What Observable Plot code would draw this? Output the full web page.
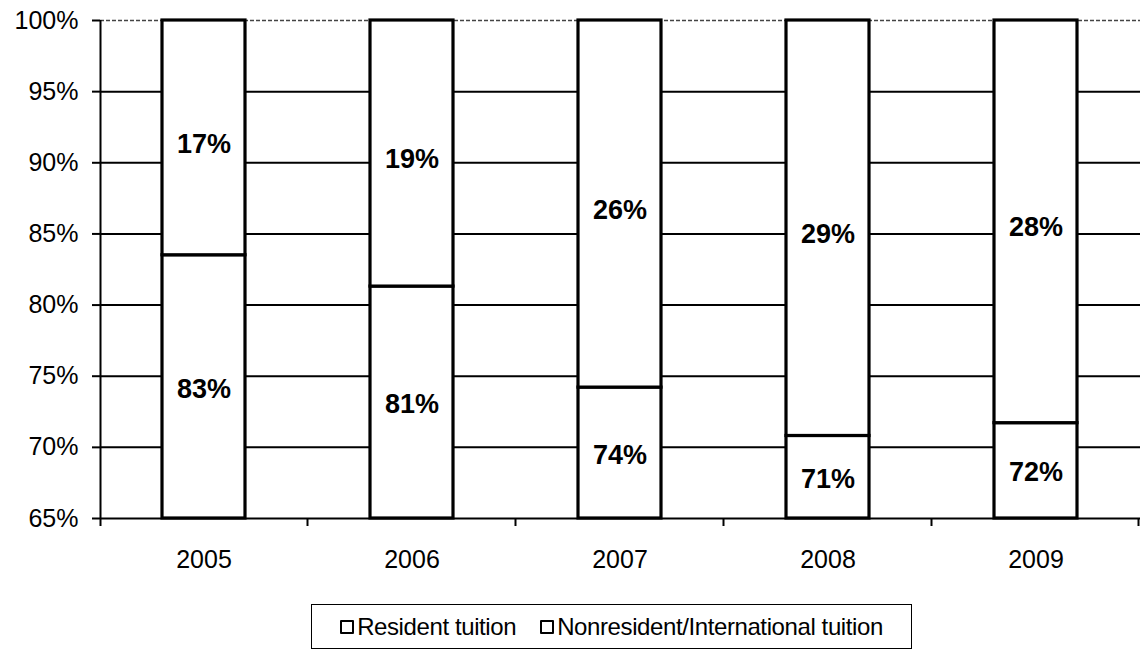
<!DOCTYPE html>
<html>
<head>
<meta charset="utf-8">
<script src="https://cdn.jsdelivr.net/npm/d3@7"></script>
<script src="https://cdn.jsdelivr.net/npm/@observablehq/plot@0.6"></script>
<style>
  html, body { margin: 0; padding: 0; background: white; }
  #wrap { position: relative; width: 1140px; height: 654px; overflow: hidden; font-family: "Liberation Sans", Arial, sans-serif; }
  #legend { position: absolute; left: 311px; top: 604px; width: 601px; height: 45px; box-sizing: border-box;
            border: 1.5px solid black; display: flex; align-items: center; justify-content: center;
            font-size: 24px; color: black; letter-spacing: -0.4px; }
  .item { display: flex; align-items: center; margin: 0 12px; }
  .sw { width: 10px; height: 10px; border: 2px solid black; border-radius: 1px; background: white; margin-right: 3px; }
</style>
</head>
<body>
<div id="wrap"><div id="chart"></div><div id="legend"></div></div>
<script>
const years = ["2005", "2006", "2007", "2008", "2009"];
const seriesNames = ["Resident tuition", "Nonresident/International tuition"];
const resident = [83.5, 81.3, 74.2, 70.8, 71.7];
const nonresident = [16.5, 18.7, 25.8, 29.2, 28.3];
const residentLabels = ["83%", "81%", "74%", "71%", "72%"];
const nonresidentLabels = ["17%", "19%", "26%", "29%", "28%"];
const yDomain = [65, 100];
const yTicks = [65, 70, 75, 80, 85, 90, 95, 100];

const rows = [];
years.forEach((year, i) => {
  rows.push({year, series: seriesNames[0], value: resident[i]});
  rows.push({year, series: seriesNames[1], value: nonresident[i]});
});
const resLabelRows = years.map((year, i) => ({year, mid: (Math.max(yDomain[0], 0) + resident[i]) / 2, label: residentLabels[i]}));
const nonLabelRows = years.map((year, i) => ({year, mid: (2 * resident[i] + nonresident[i]) / 2, label: nonresidentLabels[i]}));

const chart = Plot.plot({
  width: 1140,
  height: 590,
  marginLeft: 100,
  marginRight: 0,
  marginTop: 20,
  marginBottom: 72,
  style: {fontFamily: "'Liberation Sans', Arial, sans-serif", color: "black", background: "white"},
  x: {domain: years, paddingInner: 0.6, paddingOuter: 0.3, label: null},
  y: {domain: yDomain, clamp: true, label: null},
  marks: [
    Plot.ruleY(yTicks.filter(t => t > yDomain[0] && t < yDomain[1]), {stroke: "black", strokeWidth: 2}),
    Plot.ruleY([yDomain[1]], {stroke: "#444", strokeWidth: 1.5, strokeDasharray: "4,2"}),
    Plot.ruleY([yDomain[0]], {stroke: "black", strokeWidth: 2}),
    Plot.barY(rows, {x: "year", y: "value", z: "series", fill: "white", stroke: "black", strokeWidth: 3.2}),
    Plot.text(resLabelRows, {x: "year", y: "mid", text: "label", fontWeight: "bold", fontSize: 27, dy: 2, fill: "black"}),
    Plot.text(nonLabelRows, {x: "year", y: "mid", text: "label", fontWeight: "bold", fontSize: 27, dy: 6, fill: "black"}),
    Plot.axisY({ticks: yTicks, tickSize: 8, tickPadding: 14, tickFormat: d => d + "%", fontSize: 25, strokeWidth: 2, label: null}),
    Plot.axisX({tickSize: 0, tickPadding: 32, fontSize: 25, label: null})
  ]
});
document.getElementById("chart").appendChild(chart);

// axis line and category boundary ticks, derived from Plot's scales
const xs = chart.scale("x");
const ys = chart.scale("y");
const y0 = ys.apply(yDomain[0]);
const y1 = ys.apply(yDomain[1]);
const gap = (xs.step - xs.bandwidth) / 2;
const svg = d3.select(chart);
const g = svg.append("g").attr("stroke", "black").attr("stroke-width", 2);
const leftX = xs.apply(years[0]) - gap;
g.append("line").attr("x1", leftX + 1).attr("x2", leftX + 1).attr("y1", y1).attr("y2", y0 + 8);
const bounds = years.map(yr => xs.apply(yr) - gap).slice(1);
bounds.push(xs.apply(years[years.length - 1]) + xs.bandwidth + gap - 1);
bounds.forEach(bx => {
  g.append("line").attr("x1", bx).attr("x2", bx).attr("y1", y0).attr("y2", y0 + 8);
});

// legend
const legend = d3.select("#legend");
seriesNames.forEach(name => {
  const it = legend.append("div").attr("class", "item");
  it.append("div").attr("class", "sw");
  it.append("span").text(name);
});
</script>
</body>
</html>
